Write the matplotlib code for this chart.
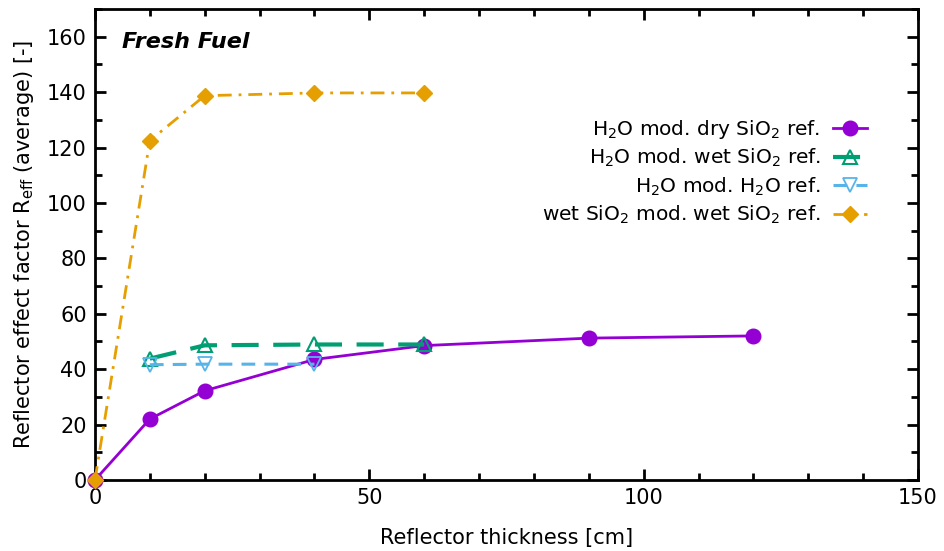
import numpy as np
import matplotlib
matplotlib.use('Agg')
import matplotlib.pyplot as plt
from matplotlib.ticker import MultipleLocator

plt.rcParams['font.family'] = ['DejaVu Sans']
plt.rcParams['mathtext.default'] = 'regular'

# Reflector thickness [cm] and R_eff values per configuration
x_dry = [0, 10, 20, 40, 60, 90, 120]
y_dry = [0, 22, 32.2, 43.5, 48.5, 51.2, 52]

x_wet = [10, 20, 40, 60]
y_wet = [43.8, 48.6, 48.9, 48.9]

x_h2o = [10, 20, 40]
y_h2o = [41.6, 41.8, 41.8]

x_sio2 = [0, 10, 20, 40, 60]
y_sio2 = [0, 122.5, 138.7, 139.7, 139.7]

labels = [
    r'H$_2$O mod. dry SiO$_2$ ref.',
    r'H$_2$O mod. wet SiO$_2$ ref.',
    r'H$_2$O mod. H$_2$O ref.',
    r'wet SiO$_2$ mod. wet SiO$_2$ ref.',
]

fig = plt.figure(figsize=(9.44, 5.51), dpi=100)
ax = fig.add_axes([0.1006, 0.1289, 0.8719, 0.8548])

ax.plot(x_dry, y_dry, '-', color='#9400D3', lw=2, marker='o', ms=10.5,
        label=labels[0], clip_on=False, zorder=3)
ax.plot(x_wet, y_wet, color='#009E73', lw=3, ls=(0, (6.5, 3.5)), marker='^', ms=10,
        mfc='none', mew=1.5, label=labels[1], clip_on=False, zorder=4)
ax.plot(x_h2o, y_h2o, color='#56B4E9', lw=2.2, ls=(0, (4.5, 3)), marker='v', ms=10,
        mfc='none', mew=1.3, label=labels[2], clip_on=False, zorder=5)
ax.plot(x_sio2, y_sio2, color='#E69F00', lw=2, ls=(0, (5, 2.5, 1, 2.5)), marker='D', ms=8,
        label=labels[3], clip_on=False, zorder=6)

ax.set_xlim(0, 150)
ax.set_ylim(0, 170)
ax.xaxis.set_major_locator(MultipleLocator(50))
ax.xaxis.set_minor_locator(MultipleLocator(10))
ax.yaxis.set_major_locator(MultipleLocator(20))
ax.yaxis.set_minor_locator(MultipleLocator(10))
ax.tick_params(which='both', direction='in', top=True, right=True, width=2, labelsize=15)
ax.tick_params(which='major', length=8, pad=6)
ax.tick_params(which='minor', length=5)
for s in ax.spines.values():
    s.set_linewidth(2)

ax.set_xlabel('Reflector thickness [cm]', fontsize=15, labelpad=14)
ax.set_ylabel(r'Reflector effect factor R$_{eff}$ (average) [-]', fontsize=15, labelpad=8)

ax.text(0.033, 0.93, 'Fresh Fuel', transform=ax.transAxes, fontsize=16,
        fontweight='bold', fontstyle='italic', va='center', ha='left')

ax.legend(loc='upper right', bbox_to_anchor=(0.95, 0.79), frameon=False, markerfirst=False,
          fontsize=14.5, handlelength=1.7, labelspacing=0.3, borderpad=0, handletextpad=0.6)

fig.savefig('out.png', dpi=100)
